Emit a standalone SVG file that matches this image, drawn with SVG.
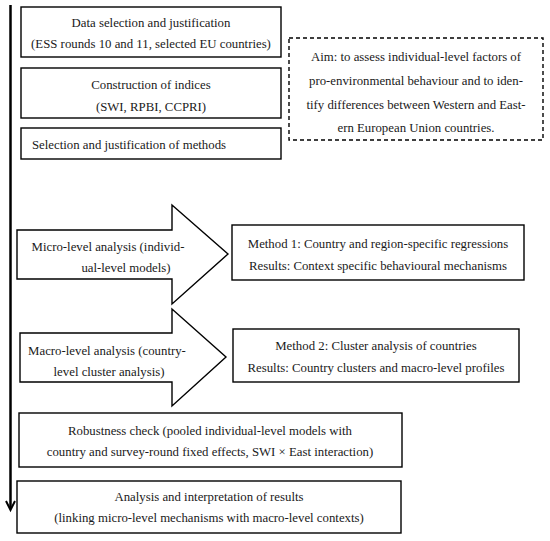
<svg xmlns="http://www.w3.org/2000/svg" width="550" height="541" viewBox="0 0 550 541">
<style>
.box{fill:#fff;stroke:#000;stroke-width:1.4}
.dash{fill:#fff;stroke:#000;stroke-width:1.4;stroke-dasharray:4,3}
text{font-family:"Liberation Serif","DejaVu Serif",serif;font-size:12.8px;fill:#1a1a1a;text-anchor:middle}
.l{text-anchor:start}
</style>
<rect width="550" height="541" fill="#fff"/>
<g id="connectors">
<line x1="10.5" y1="5" x2="10.5" y2="509" stroke="#000" stroke-width="2.5"/>
<polyline points="6,501 10.5,510 15,501" fill="none" stroke="#000" stroke-width="2"/>
</g>
<g id="n1"><rect class="box" x="21" y="7" width="260" height="50"/>
<text x="151" y="27">Data selection and justification</text>
<text x="151" y="48">(ESS rounds 10 and 11, selected EU countries)</text></g>
<g id="n2"><rect class="box" x="21" y="68" width="260" height="50"/>
<text x="151" y="89">Construction of indices</text>
<text x="151" y="111">(SWI, RPBI, CCPRI)</text></g>
<g id="n3"><rect class="box" x="21" y="128" width="260" height="31"/>
<text class="l" x="32" y="149">Selection and justification of methods</text></g>
<g id="aim"><rect class="dash" x="289" y="38" width="254" height="102"/>
<text x="416" y="61">Aim: to assess individual-level factors of</text>
<text x="416" y="85">pro-environmental behaviour and to iden-</text>
<text x="416" y="109">tify differences between Western and East-</text>
<text x="416" y="132">ern European Union countries.</text></g>
<g id="micro"><polygon class="box" points="17,230 172,230 172,205 228,254 172,304 172,279 17,279"/>
<text x="108" y="251">Micro-level analysis (individ-</text>
<text x="126" y="272">ual-level models)</text></g>
<g id="m1"><rect class="box" x="232" y="225" width="292" height="55"/>
<text x="378" y="248">Method 1: Country and region-specific regressions</text>
<text x="378" y="270">Results: Context specific behavioural mechanisms</text></g>
<g id="macro"><polygon class="box" points="20,333 172,333 172,309 226,357 172,406 172,382 20,382"/>
<text x="107" y="355">Macro-level analysis (country-</text>
<text x="109" y="376">level cluster analysis)</text></g>
<g id="m2"><rect class="box" x="233" y="329" width="286" height="53"/>
<text x="376" y="350">Method 2: Cluster analysis of countries</text>
<text x="376" y="372">Results: Country clusters and macro-level profiles</text></g>
<g id="rob"><rect class="box" x="19" y="413" width="383" height="54"/>
<text x="210" y="435">Robustness check (pooled individual-level models with</text>
<text x="210" y="456">country and survey-round fixed effects, SWI × East interaction)</text></g>
<g id="ana"><rect class="box" x="17" y="481" width="384" height="52"/>
<text x="209" y="501">Analysis and interpretation of results</text>
<text x="209" y="522">(linking micro-level mechanisms with macro-level contexts)</text></g>
</svg>
